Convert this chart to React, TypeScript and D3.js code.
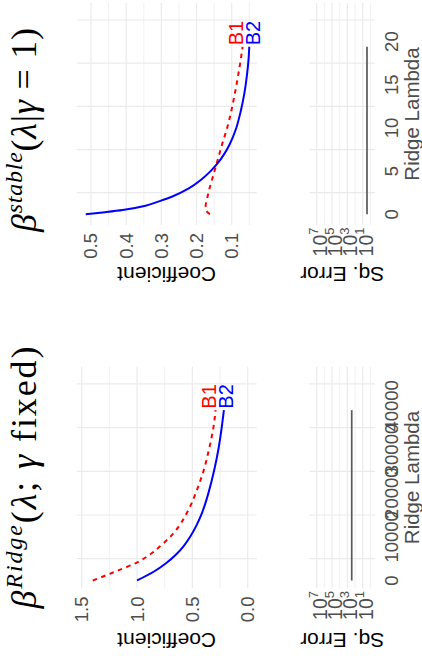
import React from 'react';
import * as d3 from 'd3';

// ---- data ----
const seriesNames = ['B1', 'B2'];
const seriesColors = ['#FF0000', '#0000FF'];

const ridgeLambda = [0, 2000, 4000, 6000, 8000, 10000, 12500, 15000, 17500, 20000, 25000, 30000, 35000, 39000];
const ridgeB1 = [1.40, 1.20, 1.01, 0.88, 0.785, 0.70, 0.62, 0.56, 0.51, 0.47, 0.40, 0.35, 0.31, 0.29];
const ridgeB2 = [1.00, 0.85, 0.735, 0.645, 0.575, 0.52, 0.465, 0.42, 0.385, 0.355, 0.305, 0.265, 0.235, 0.215];
const ridgeSqErr = [270, 270, 270, 270, 270, 270, 270, 270, 270, 270, 270, 270, 270, 270];

const stableLambda = [0, 0.25, 0.5, 1, 1.5, 2, 3, 4, 5, 6, 7, 8, 10, 12, 14, 16, 18, 19.4];
const stableB1 = [0.162, 0.169, 0.173, 0.174, 0.172, 0.169, 0.163, 0.156, 0.149, 0.142, 0.135, 0.128, 0.113, 0.101, 0.091, 0.082, 0.074, 0.069];
const stableB2 = [0.515, 0.46, 0.41, 0.345, 0.307, 0.272, 0.222, 0.187, 0.160, 0.138, 0.121, 0.107, 0.087, 0.074, 0.064, 0.057, 0.052, 0.050];
const stableSqErr = [2.75, 2.75, 2.75, 2.75, 2.75, 2.75, 2.75, 2.75, 2.75, 2.75, 2.75, 2.75, 2.75, 2.75, 2.75, 2.75, 2.75, 2.75];

const ridgeLambdaTicks = [0, 10000, 20000, 30000, 40000];
const stableLambdaTicks = [0, 5, 10, 15, 20];
const ridgeCoefTicks = [0, 0.5, 1.0, 1.5];
const ridgeCoefMinor = [0.25, 0.75, 1.25];
const stableCoefTicks = [0.1, 0.2, 0.3, 0.4, 0.5];
const stableCoefMinor = [0.05, 0.15, 0.25, 0.35, 0.45];
const sqErrExponents = [1, 3, 5, 7];
const sqErrMinorExponents = [0, 2, 4, 6];

const xTitle = 'Ridge Lambda';
const yTitleCoef = 'Coefficient';
const yTitleErr = 'Sq. Error';

// ---- layout (original, unrotated frame: 658 x 422) ----
const OW = 658;
const SANS = '"Liberation Sans", Arial, sans-serif';
const SERIF = '"Liberation Serif", "DejaVu Serif", serif';
const GRID = '#EBEBEB';
const TICK = '#4D4D4D';

const coefPanel = [76.7, 256.7];
const errPanel = [309.3, 375];

type Col = {
  lambda: number[];
  b: number[][];
  err: number[];
  lambdaTicks: number[];
  lambdaDomain: [number, number];
  lambdaRange: [number, number];
  panelX: [number, number];
  coefDomain: [number, number];
  coefRange: [number, number];
  coefTicks: number[];
  coefMinor: number[];
  fmt: (v: number) => string;
  tickEnd: number;
  titleX: number;
  titleLen: number;
  axisTitleX: number;
  title: React.ReactNode;
};

function Column({ c }: { c: Col }) {
  const x = d3.scaleLinear().domain(c.lambdaDomain).range(c.lambdaRange);
  const yC = d3.scaleLinear().domain(c.coefDomain).range(c.coefRange);
  const yE = d3.scaleLog().domain([10, 1e7]).range([362.7, 316.7]);
  const step = c.lambdaTicks[1] - c.lambdaTicks[0];
  const lambdaGrid = c.lambdaTicks.map((t) => t + step / 2);
  const [px0, px1] = c.panelX;
  const lineC = d3.line<[number, number]>().x((d) => x(d[0])).y((d) => yC(d[1])).curve(d3.curveMonotoneX);
  const lineE = d3.line<[number, number]>().x((d) => x(d[0])).y((d) => yE(d[1]));
  const lastL = c.lambda[c.lambda.length - 1];
  const b1y = yC(c.b[0][c.b[0].length - 1]);
  const b2yRaw = yC(c.b[1][c.b[1].length - 1]);
  const b2y = Math.max(b2yRaw, b1y + 17);
  const labelYs = [b1y, b2y];
  const panelCenter = (px0 + px1) / 2;
  return (
    <g>
      {/* coefficient panel grid */}
      {lambdaGrid.map((g) => (
        <line key={'lg' + g} x1={x(g)} x2={x(g)} y1={coefPanel[0]} y2={coefPanel[1]} stroke={GRID} strokeWidth={1.2} />
      ))}
      {c.coefMinor.map((v) => (
        <line key={'cm' + v} x1={px0} x2={px1} y1={yC(v)} y2={yC(v)} stroke={GRID} strokeWidth={0.7} />
      ))}
      {c.coefTicks.map((v) => (
        <line key={'cM' + v} x1={px0} x2={px1} y1={yC(v)} y2={yC(v)} stroke={GRID} strokeWidth={1.2} />
      ))}
      {/* error panel grid */}
      {lambdaGrid.map((g) => (
        <line key={'eg' + g} x1={x(g)} x2={x(g)} y1={errPanel[0]} y2={errPanel[1]} stroke={GRID} strokeWidth={1.2} />
      ))}
      {sqErrMinorExponents.map((e) => (
        <line key={'em' + e} x1={px0} x2={px1} y1={yE(Math.pow(10, e))} y2={yE(Math.pow(10, e))} stroke={GRID} strokeWidth={0.7} />
      ))}
      {sqErrExponents.map((e) => (
        <line key={'eM' + e} x1={px0} x2={px1} y1={yE(Math.pow(10, e))} y2={yE(Math.pow(10, e))} stroke={GRID} strokeWidth={1.2} />
      ))}
      {/* series */}
      {c.b.map((vals, i) => (
        <path
          key={'s' + i}
          d={lineC(c.lambda.map((l, j) => [l, vals[j]] as [number, number])) || ''}
          fill="none"
          stroke={seriesColors[i]}
          strokeWidth={2}
          strokeDasharray={i === 0 ? '4.5,4.5' : undefined}
        />
      ))}
      {seriesNames.map((n, i) => (
        <text key={'lab' + n} x={x(lastL) + 1.5} y={labelYs[i]} fontFamily={SANS} fontSize={20} fill={seriesColors[i]}>
          {n}
        </text>
      ))}
      <path
        d={lineE(c.lambda.map((l, j) => [l, c.err[j]] as [number, number])) || ''}
        fill="none"
        stroke="#595959"
        strokeWidth={1.7}
      />
      {/* tick labels */}
      {c.coefTicks.map((v) => (
        <text key={'ct' + v} x={c.tickEnd} y={yC(v)} dy="0.35em" textAnchor="end" fontFamily={SANS} fontSize={18.5} fill={TICK}>
          {c.fmt(v)}
        </text>
      ))}
      {sqErrExponents.map((e) => (
        <text key={'et' + e} x={c.tickEnd + 5.5} y={yE(Math.pow(10, e)) + 10} textAnchor="end" fontFamily={SANS} fontSize={19.5} fill={TICK}>
          10<tspan fontSize={13} dy={-8.5}>{e}</tspan>
        </text>
      ))}
      {c.lambdaTicks.map((t) => (
        <text key={'lt' + t} x={x(t)} y={398} textAnchor="middle" fontFamily={SANS} fontSize={18.5} fill={TICK}>
          {String(t)}
        </text>
      ))}
      {/* axis titles */}
      <text x={panelCenter} y={419} textAnchor="middle" fontFamily={SANS} fontSize={20.5} fill="#4D4D4D">
        {xTitle}
      </text>
      <text
        transform={`translate(${c.axisTitleX},${(coefPanel[0] + coefPanel[1]) / 2}) rotate(-90)`}
        textAnchor="middle"
        fontFamily={SANS}
        fontSize={21}
        fill="#000"
      >
        {yTitleCoef}
      </text>
      <text
        transform={`translate(${c.axisTitleX},${(errPanel[0] + errPanel[1]) / 2}) rotate(-90)`}
        textAnchor="middle"
        fontFamily={SANS}
        fontSize={21}
        fill="#000"
      >
        {yTitleErr}
      </text>
      {/* title */}
      <text
        x={c.titleX}
        y={36}
        textAnchor="middle"
        fontFamily={SERIF}
        fontSize={36}
        fill="#000"
        textLength={c.titleLen}
        lengthAdjust="spacing"
      >
        {c.title}
      </text>
    </g>
  );
}

const ridgeTitle = (
  <>
    <tspan fontStyle="italic">β</tspan>
    <tspan fontStyle="italic" fontSize={24} dy={-14}>Ridge</tspan>
    <tspan dy={14}>(</tspan>
    <tspan fontStyle="italic">λ</tspan>
    <tspan>; </tspan>
    <tspan fontStyle="italic">γ</tspan>
    <tspan> fixed)</tspan>
  </>
);

const stableTitle = (
  <>
    <tspan fontStyle="italic">β</tspan>
    <tspan fontStyle="italic" fontSize={24} dy={-14}>stable</tspan>
    <tspan dy={14}>(</tspan>
    <tspan fontStyle="italic">λ</tspan>
    <tspan>|</tspan>
    <tspan fontStyle="italic">γ</tspan>
    <tspan> = 1)</tspan>
  </>
);

const cols: Col[] = [
  {
    lambda: ridgeLambda,
    b: [ridgeB1, ridgeB2],
    err: ridgeSqErr,
    lambdaTicks: ridgeLambdaTicks,
    lambdaDomain: [0, 40000],
    lambdaRange: [77.5, 252.2],
    panelX: [69.7, 291.3],
    coefDomain: [0, 1.5],
    coefRange: [247.7, 81.7],
    coefTicks: ridgeCoefTicks,
    coefMinor: ridgeCoefMinor,
    fmt: d3.format('.1f'),
    tickEnd: 61.5,
    titleX: 180.5,
    titleLen: 262,
    axisTitleX: 25,
    title: ridgeTitle,
  },
  {
    lambda: stableLambda,
    b: [stableB1, stableB2],
    err: stableSqErr,
    lambdaTicks: stableLambdaTicks,
    lambdaDomain: [0, 20],
    lambdaRange: [443.7, 616.4],
    panelX: [433, 655],
    coefDomain: [0.1, 0.5],
    coefRange: [231.7, 91],
    coefTicks: stableCoefTicks,
    coefMinor: stableCoefMinor,
    fmt: d3.format('.1f'),
    tickEnd: 425,
    titleX: 528,
    titleLen: 204,
    axisTitleX: 391,
    title: stableTitle,
  },
];

export default function App() {
  return (
    <svg width={422} height={658} style={{ position: 'absolute', left: 0, top: 0, background: '#fff' }}>
      <rect width={422} height={658} fill="#fff" />
      <g transform={`translate(0,${OW}) rotate(-90)`}>
        {cols.map((c, i) => (
          <Column key={i} c={c} />
        ))}
      </g>
    </svg>
  );
}
